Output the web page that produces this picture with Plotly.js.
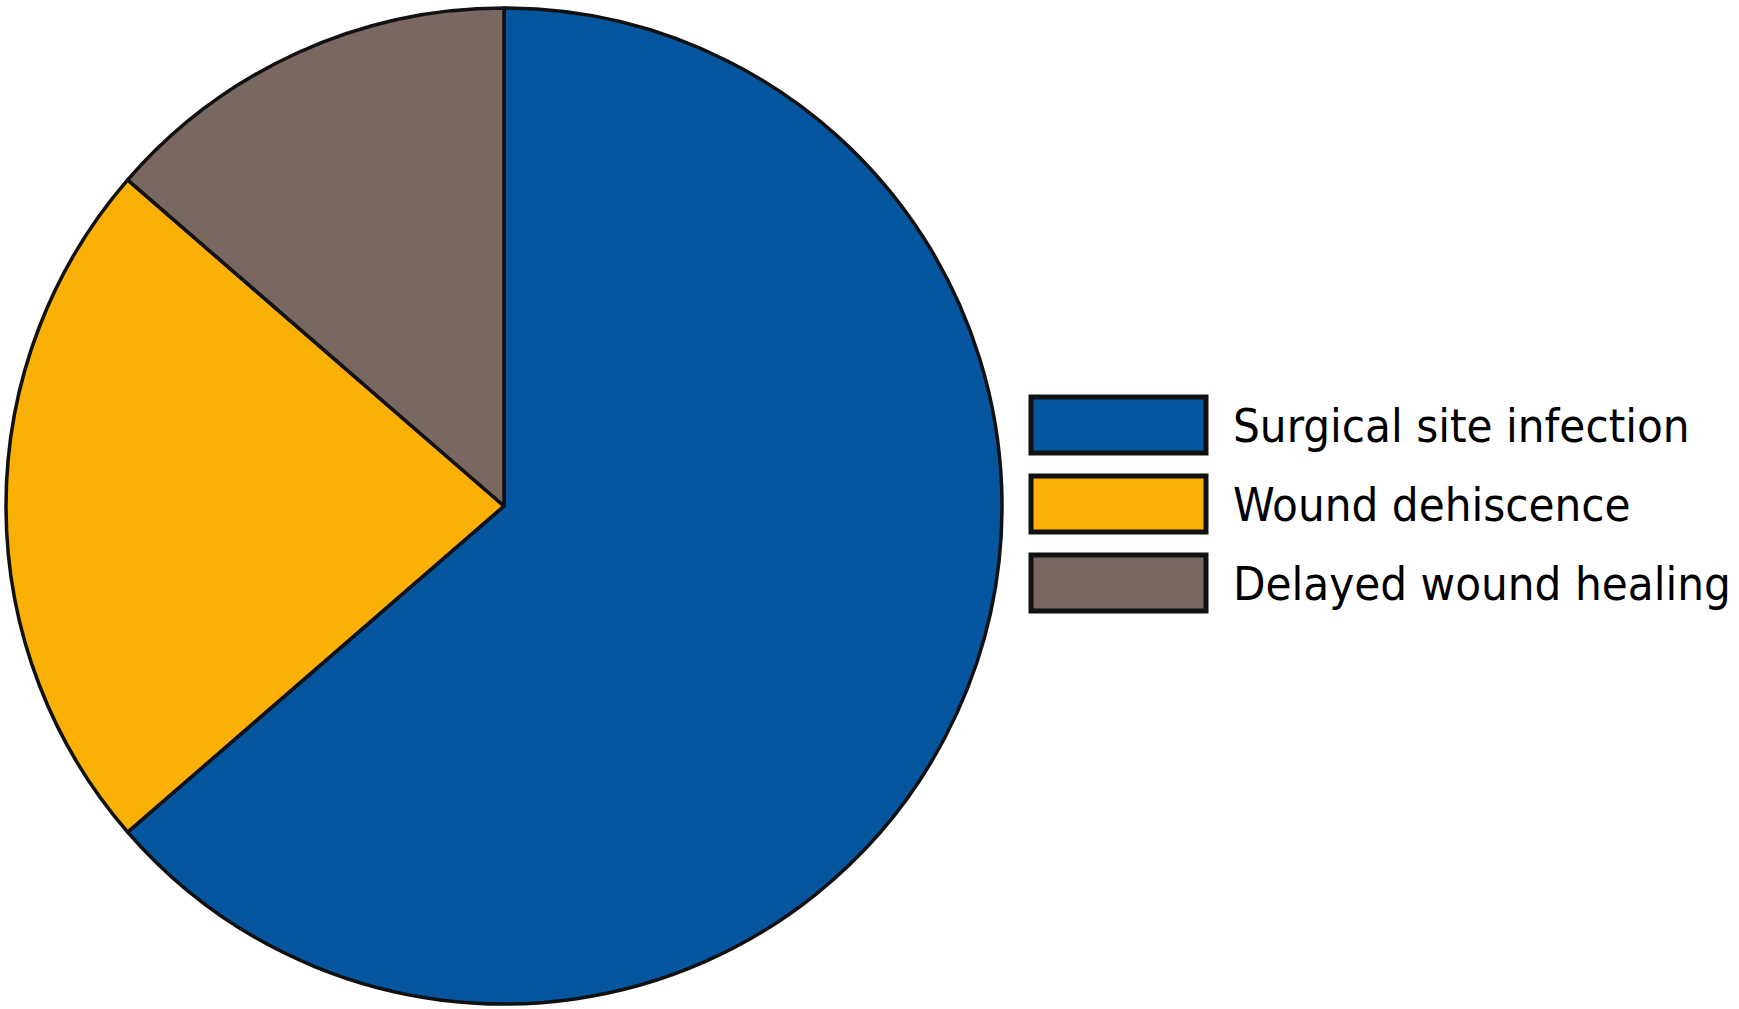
<!DOCTYPE html>
<html>
<head>
<meta charset="utf-8">
<script src="https://cdn.plot.ly/plotly-3.0.1.min.js"></script>
<style>
html,body{margin:0;padding:0;background:#fff;}
#chart{width:1739px;height:1009px;}
</style>
</head>
<body>
<div id="chart"></div>
<script>
const categories = ["Surgical site infection", "Wound dehiscence", "Delayed wound healing"];
const values = [14, 5, 3];
const colors = ["#06559F", "#FBB005", "#786860"];

const W = 1739, H = 1009;
const px = x => x / W;
const py = y => 1 - y / H;

const trace = {
  type: "pie",
  labels: categories,
  values: values,
  sort: false,
  direction: "clockwise",
  rotation: 0,
  textinfo: "none",
  hoverinfo: "label+value+percent",
  marker: { colors: colors, line: { color: "#111111", width: 3.5 } },
  domain: { x: [px(6), px(1002)], y: [py(1004), py(8)] },
  showlegend: false
};

const shapes = [];
const annotations = [];
const boxX0 = 1031, boxX1 = 1206, boxY0 = 397, boxH = 56, pitch = 79;
categories.forEach((c, i) => {
  const y0 = boxY0 + i * pitch;
  shapes.push({
    type: "rect", xref: "paper", yref: "paper",
    x0: px(boxX0), x1: px(boxX1), y0: py(y0 + boxH), y1: py(y0),
    fillcolor: colors[i], line: { color: "#111111", width: 5 }
  });
  annotations.push({
    xref: "paper", yref: "paper", x: px(1231), y: py(y0 + boxH / 2),
    xanchor: "left", yanchor: "middle", showarrow: false,
    text: c, font: { family: "DejaVu Sans Condensed, DejaVu Sans", size: 47, color: "#000" }
  });
});

const layout = {
  width: W, height: H,
  margin: { l: 0, r: 0, t: 0, b: 0 },
  paper_bgcolor: "#ffffff",
  plot_bgcolor: "#ffffff",
  showlegend: false,
  shapes: shapes,
  annotations: annotations
};

Plotly.newPlot("chart", [trace], layout, { displayModeBar: false, staticPlot: true });
</script>
</body>
</html>
